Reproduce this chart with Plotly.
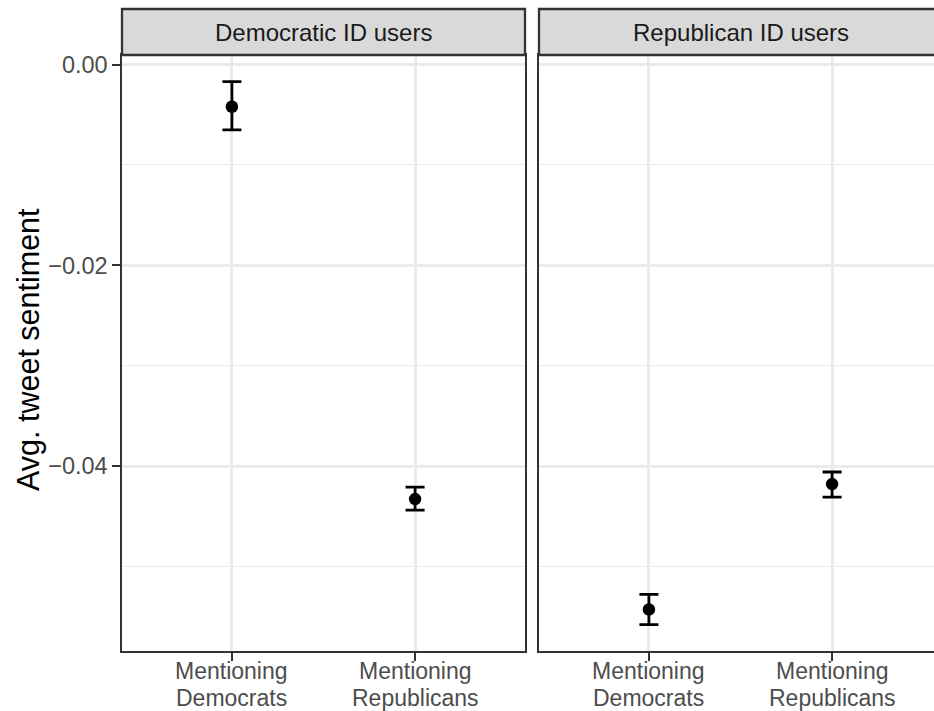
import plotly.graph_objects as go

# Facet panels and the two tweet categories on the x axis
panels = ["Democratic ID users", "Republican ID users"]
categories = ["Mentioning Democrats", "Mentioning Republicans"]

# Mean sentiment with confidence bounds, per panel (order follows categories)
dem_mean = [-0.0042, -0.0433]
dem_upper = [-0.0017, -0.0421]
dem_lower = [-0.0065, -0.0444]

rep_mean = [-0.0543, -0.0418]
rep_upper = [-0.0528, -0.0406]
rep_lower = [-0.0558, -0.0431]

y_tickvals = [0.0, -0.02, -0.04]
y_ticktext = ["0.00", "\u22120.02", "\u22120.04"]
y_minorvals = [-0.01, -0.03, -0.05]

W, H = 934, 711
ML, MR, MT, MB = 122, 0, 9, 60
PW = W - ML - MR
PH = H - MT - MB


def px_x(p):
    return (p - ML) / PW


def px_y(p):
    return (H - MB - p) / PH


panel_w = 403
left_x0, right_x0 = 122, 539
panel_top = 55
strip_top = 9

grid_major = "#EBEBEB"
border_col = "#333333"
tick_col = "#4D4D4D"
FONT = "Liberation Sans, Arial, sans-serif"

fig = go.Figure()

for i, (mean, up, lo) in enumerate([(dem_mean, dem_upper, dem_lower),
                                    (rep_mean, rep_upper, rep_lower)]):
    fig.add_trace(go.Scatter(
        x=categories, y=mean,
        mode="markers",
        marker=dict(color="black", size=12.5),
        error_y=dict(type="data",
                     array=[u - m for u, m in zip(up, mean)],
                     arrayminus=[m - l for m, l in zip(mean, lo)],
                     color="black", thickness=2.8, width=9.5),
        xaxis="x" if i == 0 else "x2",
        yaxis="y" if i == 0 else "y2",
        showlegend=False,
        hoverinfo="skip",
    ))

# y range from pixel geometry of the panel: 0 at 64.6px, 0.02 per 200.7px
ppu = 200.7 / 0.02
y_zero_px = 64.6
y_top = (y_zero_px - panel_top) / ppu
y_bot = -((H - MB) - y_zero_px) / ppu

x_right_end = min(right_x0 + panel_w, W)
right_span = (x_right_end - right_x0) / panel_w * 2.2

common_y = dict(
    range=[y_bot, y_top],
    tickvals=y_tickvals,
    showgrid=True, gridcolor=grid_major, gridwidth=2.6,
    zeroline=False,
    minor=dict(tickvals=y_minorvals, showgrid=True, gridcolor=grid_major,
               gridwidth=1.3, ticks=""),
    domain=[0, px_y(panel_top)],
    showline=True, linecolor=border_col, linewidth=2.3,
)

common_x = dict(
    type="category",
    categoryorder="array", categoryarray=categories,
    showgrid=True, gridcolor=grid_major, gridwidth=2.6,
    zeroline=False,
    showline=True, linecolor=border_col, linewidth=2.3, mirror=True,
    ticks="outside", ticklen=7.5, tickwidth=2.3, tickcolor=border_col,
    showticklabels=False,
)

fig.update_layout(
    width=W, height=H,
    margin=dict(l=ML, r=MR, t=MT, b=MB),
    paper_bgcolor="white", plot_bgcolor="white",
    font=dict(family=FONT, color=tick_col),
    xaxis=dict(common_x, domain=[0, px_x(left_x0 + panel_w)],
               range=[-0.6, 1.6]),
    xaxis2=dict(common_x, domain=[px_x(right_x0), 1],
                range=[-0.6, -0.6 + right_span], anchor="y2"),
    yaxis=dict(common_y, ticktext=y_ticktext, ticks="outside", ticklen=7.5,
               tickwidth=2.3, tickcolor=border_col, mirror=True,
               tickfont=dict(size=23.5, color=tick_col, family=FONT)),
    yaxis2=dict(common_y, anchor="x2", showticklabels=False, ticks="",
                mirror=False),
)

shapes = []
annotations = []
strip_y0, strip_y1 = px_y(panel_top), px_y(strip_top)
for name, x0 in zip(panels, [left_x0, right_x0]):
    shapes.append(dict(type="rect", xref="paper", yref="paper",
                       x0=px_x(x0), x1=px_x(x0 + panel_w),
                       y0=strip_y0, y1=strip_y1,
                       fillcolor="#D9D9D9",
                       line=dict(color=border_col, width=2.3),
                       layer="above"))
    annotations.append(dict(text=name, xref="paper", yref="paper",
                            x=px_x(x0 + panel_w / 2), y=(strip_y0 + strip_y1) / 2,
                            xanchor="center", yanchor="middle", showarrow=False,
                            font=dict(size=24, color="#1A1A1A", family=FONT)))

# Two-line category labels under each panel, set tight like the facet strips
for xa in ["x", "x2"]:
    for cat in categories:
        first, second = cat.split(" ", 1)
        for line, ypx in [(first, 671), (second, 697.5)]:
            annotations.append(dict(text=line, xref=xa, yref="paper",
                                    x=cat, y=px_y(ypx),
                                    xanchor="center", yanchor="middle",
                                    showarrow=False,
                                    font=dict(size=23, color=tick_col,
                                              family=FONT)))

annotations.append(dict(text="Avg. tweet sentiment", xref="paper", yref="paper",
                        x=px_x(28), y=px_y(350), textangle=-90,
                        xanchor="center", yanchor="middle", showarrow=False,
                        font=dict(size=30.5, color="black", family=FONT)))

fig.update_layout(shapes=shapes, annotations=annotations)

fig.write_html("out.html")
